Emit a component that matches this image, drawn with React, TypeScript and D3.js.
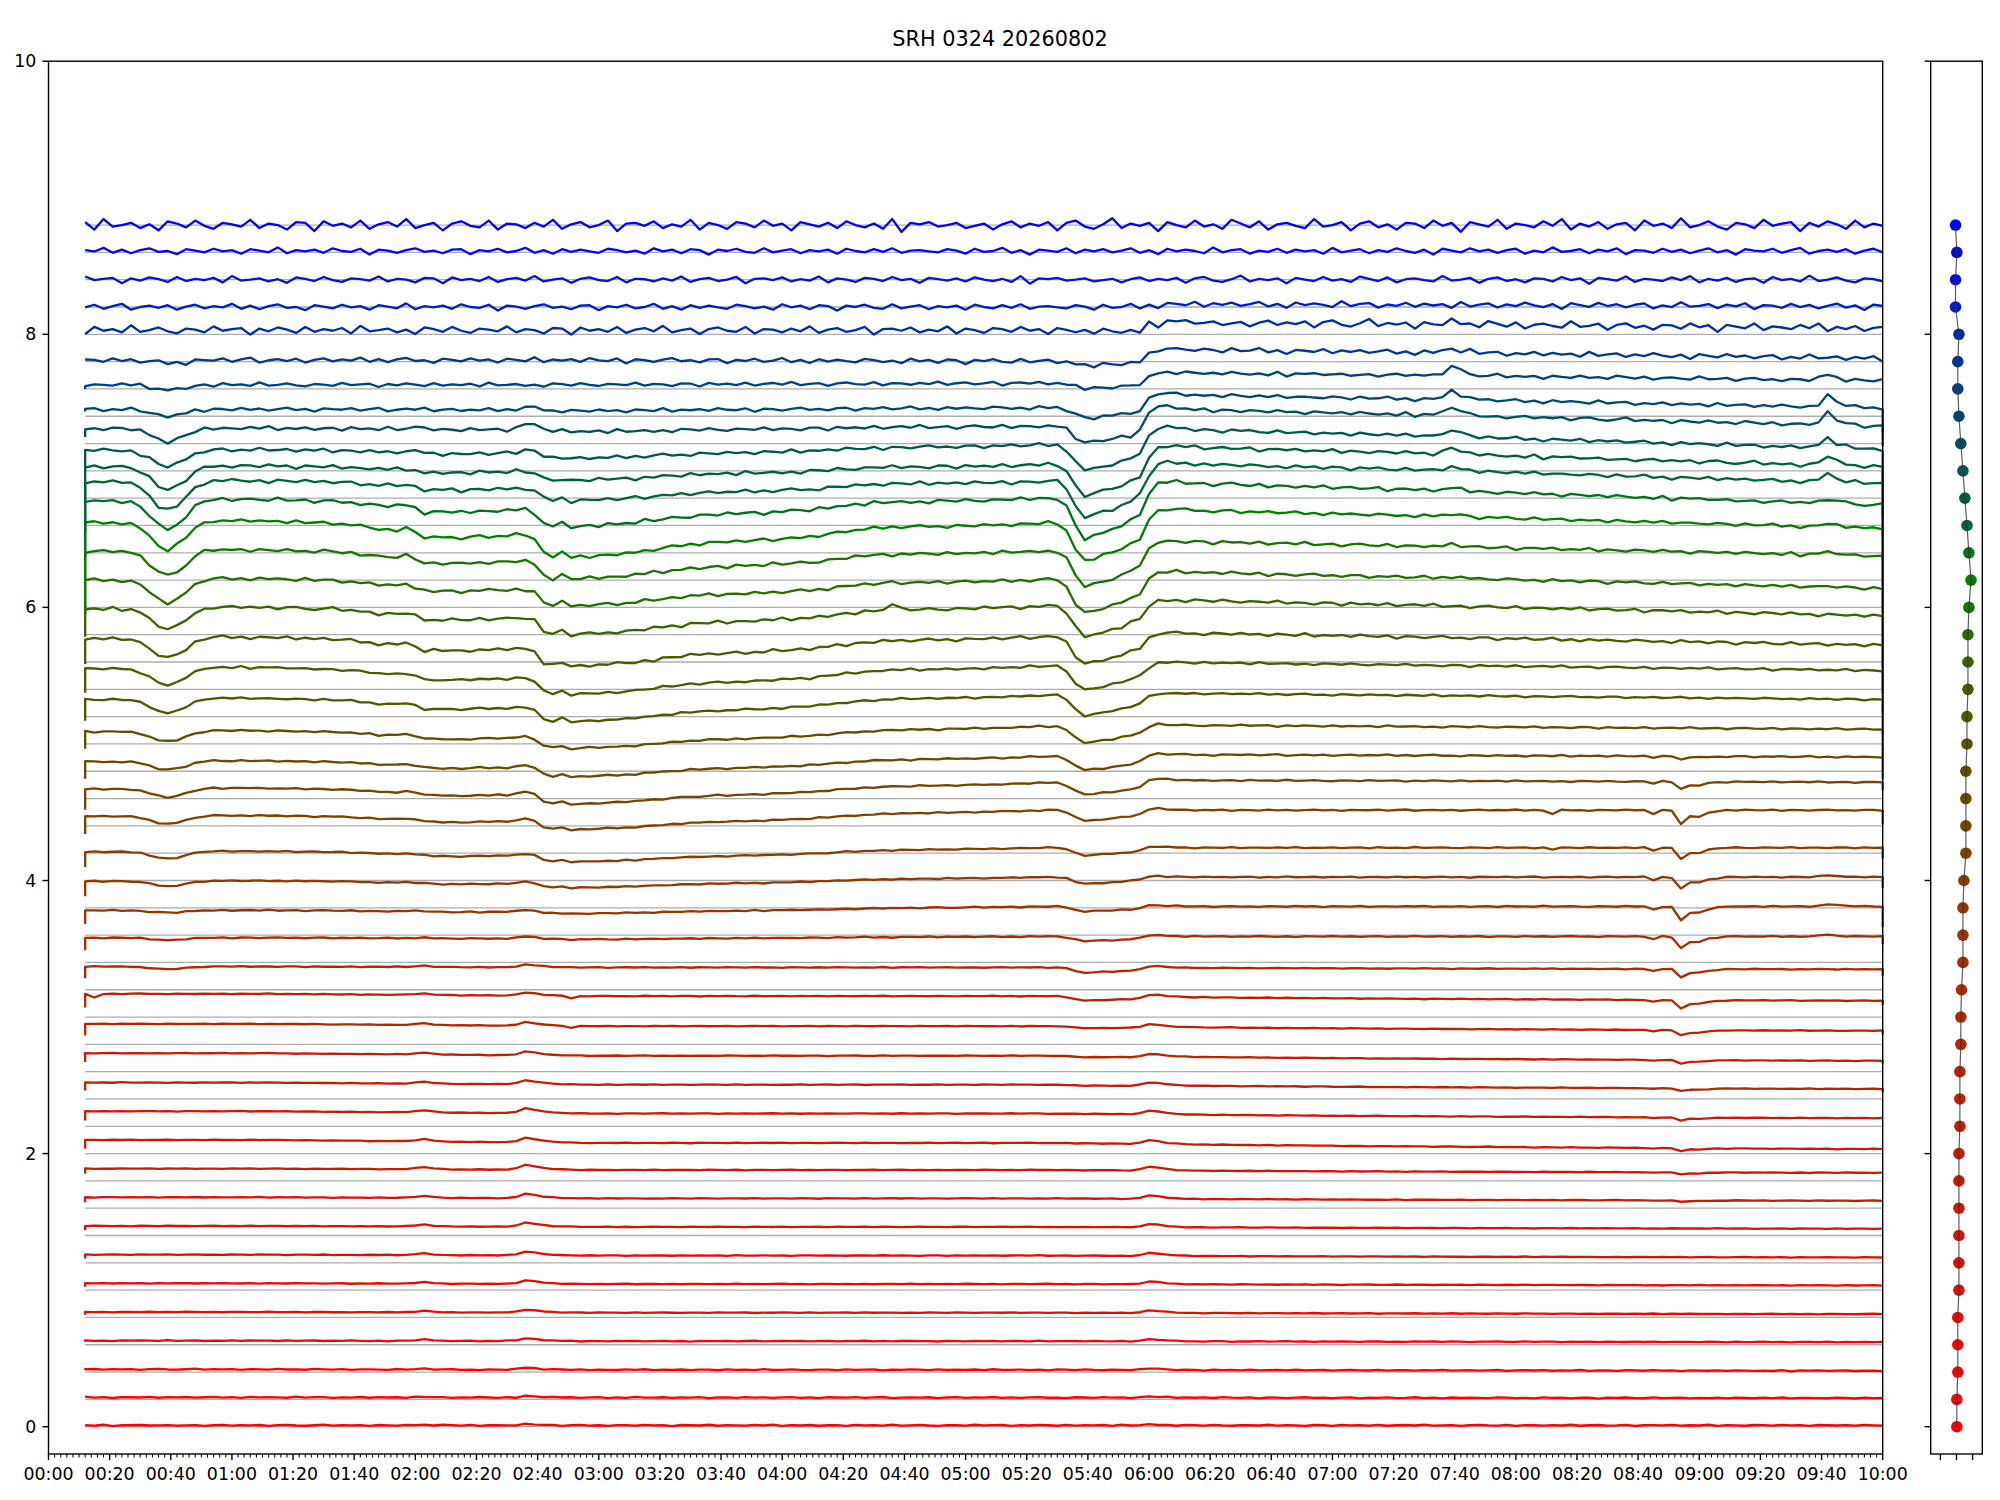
import React from "react";
import * as d3 from "d3";

// ---------------- layout (figure 2000x1500) ----------------
const FIG_W = 2000;
const FIG_H = 1500;
const MAIN = { left: 48.5, right: 1882.7, top: 61.2, bottom: 1454 };
const SIDE = { left: 1930.7, right: 1982.3 };
const FONT = "DejaVu Sans, Liberation Sans, sans-serif";

// ---------------- text / ticks ----------------
const TITLE = "SRH 0324 20260802";
const yTickValues = [0, 2, 4, 6, 8, 10];
const yTickLabels = ["0", "2", "4", "6", "8", "10"];
const xTickMinutes = [0, 20, 40, 60, 80, 100, 120, 140, 160, 180, 200, 220, 240, 260, 280, 300, 320, 340, 360, 380, 400, 420, 440, 460, 480, 500, 520, 540, 560, 580, 600];
const xTickLabels = ["00:00", "00:20", "00:40", "01:00", "01:20", "01:40", "02:00", "02:20", "02:40", "03:00", "03:20", "03:40", "04:00", "04:20", "04:40", "05:00", "05:20", "05:40", "06:00", "06:20", "06:40", "07:00", "07:20", "07:40", "08:00", "08:20", "08:40", "09:00", "09:20", "09:40", "10:00"];
const sideXTicks = [-1, 0, 1];

// sample times (minutes after 00:00), one sample every 3 minutes
const sampleMinutes: number[] = d3.range(12, 601, 3);

const zeros = (n: number) => new Array(n).fill(0);
const rep = (v: number, n: number) => new Array(n).fill(v);

// ---------------- channel table (45 channels, bottom -> top) ----------------
const baselines = [0, 0.2, 0.4, 0.6, 0.8, 1.0, 1.2, 1.4, 1.6, 1.8, 2.0, 2.2, 2.4, 2.6, 2.8, 3.0, 3.2, 3.4, 3.6, 3.8, 4.0, 4.2, 4.4, 4.6, 4.8, 5.0, 5.2, 5.4, 5.6, 5.8, 6.0, 6.2, 6.4, 6.6, 6.8, 7.0, 7.2, 7.4, 7.6, 7.8, 8.0, 8.2, 8.4, 8.6, 8.8];

// colour position on red -> green -> blue map
const colorT = [0, 0.01, 0.02, 0.035, 0.05, 0.06, 0.07, 0.08, 0.09, 0.1,
  0.11, 0.12, 0.13, 0.135, 0.14, 0.15, 0.16, 0.17, 0.19, 0.21,
  0.23, 0.25, 0.27, 0.29, 0.31, 0.33, 0.35, 0.37, 0.39, 0.42,
  0.45, 0.5, 0.56, 0.6, 0.63, 0.66, 0.69, 0.72, 0.75, 0.79,
  0.83, 0.88, 0.92, 0.96, 1.0];

// right panel marker x positions
const dotX = [0.02, 0.02, 0.08, 0.08, 0.08, 0.15, 0.15, 0.15, 0.15, 0.15,
  0.15, 0.21, 0.21, 0.21, 0.27, 0.27, 0.31, 0.4, 0.4, 0.4,
  0.46, 0.58, 0.58, 0.58, 0.58, 0.65, 0.65, 0.71, 0.71, 0.71,
  0.77, 0.9, 0.77, 0.65, 0.52, 0.4, 0.27, 0.15, 0.08, 0.08,
  0.15, -0.06, -0.06, 0.02, -0.06];

// level of each trace above its baseline
const levelOffset = [0.01, 0.015, 0.02, 0.03, 0.04, 0.05, 0.06, 0.07, 0.08, 0.09,
  0.10, 0.11, 0.12, 0.135, 0.15, 0.17, 0.17, 0.18, 0.18, 0.195,
  0.21, 0.27, 0.27, 0.27, 0.29, 0.325, 0.35, 0.37, 0.39, 0.40,
  0.41, 0.42, 0.38, 0.32, 0.23, 0.15, 0.11, 0.05, 0.03, 0.01,
  0.03, 0.0, 0.0, 0.01, 0.0];

// per-channel strength of each event
const wDip40 = [0, 0, 0, 0, 0, 0, 0, 0, 0, 0,
  0, 0, 0, 0, 0, 0, 0.02, 0.017, 0.015, 0.037,
  0.05, 0.056, 0.061, 0.06, 0.073, 0.10, 0.12, 0.14, 0.15, 0.17,
  0.18, 0.20, 0.21, 0.21, 0.17, 0.12, 0.093, 0.05, 0.037, 0.02,
  0, 0, 0, 0, 0];
const wSlow = [0, 0, 0, 0, 0, 0, 0, 0, 0, 0,
  0, 0, 0, 0, 0, 0, 0, 0.05, 0.1, 0.2,
  0.3, 0.4, 0.45, 0.45, 0.5, 0.65, 0.75, 0.8, 0.75, 0.75,
  0.8, 1.0, 0.75, 0.55, 0.4, 0.25, 0.1, 0.05, 0, 0,
  0, 0, 0, 0, 0];
const wPlateau = [0, 0, 0, 0, 0, 0, 0, 0, 0, 0,
  0, 0, 0, 0, 0, 0, 0, 0.01, 0.03, 0.03,
  0.03, 0.045, 0.045, 0.037, 0.037, 0.03, 0.017, 0.012, 0.017, 0,
  0, -0.007, 0.017, 0, 0.012, 0.04, 0.017, 0.012, 0.012, -0.007,
  0, 0, 0, 0, 0];
const wDip540 = [0, 0, 0, 0, 0, 0, 0, 0, 0, 0,
  0, 0, 0.005, 0.008, 0.012, 0.03, 0.037, 0.034, 0.037, 0.049,
  0.056, 0.078, 0.085, 0.098, 0.117, 0.146, 0.17, 0.195, 0.22, 0.24,
  0.256, 0.27, 0.29, 0.256, 0.22, 0.183, 0.12, 0.073, 0.037, 0.03,
  0.01, 0, 0, 0, 0];
const wRise = [0, 0, 0, 0, 0, 0, 0, 0, 0, 0,
  0, 0, 0, 0, 0, 0, 0, 0, 0, 0,
  0, 0, 0.02, 0.015, 0.01, 0.015, 0.03, 0.03, 0.046, 0.06,
  0.076, 0.105, 0.12, 0.14, 0.14, 0.12, 0.13, 0.1, 0.08, 0.09,
  0.06, 0.02, 0, 0, 0];
const wLate = [0, 0, 0, 0, 0, 0, 0, 0, 0, 0,
  0, 0, 0, 0, 0, 0, 0, 0, 0, 0,
  0, 0, 0, 0.006, 0.022, 0.033, 0.036, 0.066, 0.08, 0.075,
  0.05, 0.057, 0.075, 0.045, 0.045, 0.06, 0.03, 0.025, 0, 0,
  0, 0, 0, 0, 0];
const wSpike1 = [0, 0, 0, 0, 0, 0, 0, 0, 0, 0,
  0, 0, 0, 0, 0, 0, 0, 0, 0, 0,
  0, 0, 0, 0, 0, 0, 0, 0, 0, 0.01,
  0.015, 0.02, 0.025, 0.03, 0.045, 0.05, 0.06, 0.06, 0.065, 0.03,
  0.02, 0, 0, 0, 0];
const wSpike2 = [0, 0, 0, 0, 0, 0, 0, 0, 0, 0,
  0, 0, 0, 0, 0, 0, 0, 0.015, 0.02, 0.015,
  0, 0, 0, 0, 0, 0, 0, 0, 0, 0.01,
  0.02, 0.025, 0.037, 0.06, 0.07, 0.075, 0.085, 0.085, 0.04, 0,
  0, 0, 0, 0, 0];
const wBrownDip = [0, 0, 0, 0, 0, 0, 0, 0, 0.01, 0.015,
  0.02, 0.02, 0.02, 0.025, 0.04, 0.06, 0.06, 0.085, 0.1, 0.085,
  0.08, 0.1, 0.054, 0.02, 0, 0, 0, 0, 0, 0,
  0, 0, 0, 0, 0, 0, 0, 0, 0, 0,
  0, 0, 0, 0, 0];
const wRedBump = [0.008, 0.01, 0.015, 0.02, 0.022, 0.025, 0.028, 0.03, 0.032, 0.035,
  0.035, 0.035, 0.03, 0.028, 0.026, 0.024, 0.02, 0.015, 0.015, 0.015,
  0.015, 0.02, 0.02, 0.015, 0.01, 0, 0, 0, 0, 0,
  0, 0, 0, 0, 0, 0.03, 0.045, 0.02, 0, 0,
  0, 0, 0, 0, 0];
const wDrift = [0, 0.005, 0.01, 0.01, 0.015, 0.015, 0.02, 0.02, 0.025, 0.03,
  0.066, 0.05, 0.046, 0.055, 0.05, 0.05, 0.02, 0, 0, 0,
  0, 0, 0, 0, 0, 0, 0, 0, 0, 0,
  0, 0, 0, 0, 0, 0, 0, 0, 0, 0,
  0, 0, 0, 0, 0];
const noiseAmp = [0.006, 0.006, 0.005, 0.004, 0.003, 0.003, 0.003, 0.003, 0.003, 0.003,
  0.003, 0.003, 0.003, 0.003, 0.003, 0.004, 0.004, 0.006, 0.006, 0.006,
  0.006, 0.007, 0.007, 0.009, 0.009, 0.01, 0.012, 0.018, 0.018, 0.018,
  0.018, 0.018, 0.02, 0.02, 0.02, 0.02, 0.02, 0.02, 0.02, 0.028,
  0.04, 0.033, 0.033, 0.033, 0.055];
const startDrop = [0, 0, 0.005, 0.01, 0.02, 0.025, 0.03, 0.03, 0.037, 0.04,
  0.066, 0.068, 0.06, 0.066, 0.085, 0.1, 0.083, 0.09, 0.1, 0.11,
  0.11, 0.13, 0.15, 0.13, 0.13, 0.16, 0.18, 0.18, 0.2, 0.25,
  0.4, 0.42, 0.4, 0.35, 0.25, 0.15, 0.056, 0.02, 0.02, 0,
  0, 0, 0, 0, 0];
const endDrop = [0, 0, 0, 0, 0, 0, 0, 0, 0, 0,
  0, 0, 0.02, 0.02, 0.03, 0.03, 0.05, 0.06, 0.15, 0.08,
  0.08, 0.1, 0.06, 0.16, 0.2, 0.25, 0.3, 0.35, 0.38, 0.4,
  0.42, 0.42, 0.42, 0.4, 0.35, 0.25, 0.05, 0.27, 0, 0,
  0, 0, 0, 0, 0];

// single-sample glitches: [channel, minute, jump]
const glitches: [number, number, number][] = [
  [28, 276, 0.05], [21, 492, -0.03], [20, 492, -0.012], [15, 15, -0.03], [15, 171, -0.02], [14, 171, -0.015],
];

// ---------------- event shapes on the 3-minute grid ----------------
const compDip40 = [
  0, 0, 0, 0, 0, -0.05, -0.2, -0.5, -0.85, -1, -0.85, -0.55, -0.25, -0.08, 0, 0, 0, 0, 0, 0,
  ...zeros(177),
];
const compSlow = [
  0, 0, 0, 0, 0, 0, 0, 0, 0, 0, 0.003, 0.006, 0.01, 0.012, 0.015, 0.015, 0.015, 0.015, 0.015, 0.012,
  0.012, 0.01, 0.008, 0.005, 0.003, 0, 0, -0.005, -0.01, -0.015, -0.025, -0.035, -0.045, -0.05, -0.05, -0.04, -0.07, -0.11, -0.11, -0.105,
  -0.11, -0.115, -0.105, -0.1, -0.1, -0.098, -0.095, -0.09, -0.09, -0.12, -0.22, -0.245, -0.215, -0.255, -0.25, -0.245, -0.24, -0.235, -0.23, -0.225,
  -0.215, -0.205, -0.195, -0.185, -0.175, -0.165, -0.155, -0.15, -0.145, -0.14, -0.14, -0.135, -0.13, -0.128, -0.125, -0.12, -0.115, -0.11, -0.105, -0.1,
  -0.09, -0.08, -0.07, -0.06, -0.052, -0.044, -0.037, -0.031, -0.028, -0.026, -0.025, -0.024, -0.022, -0.02, -0.02, -0.018, -0.018, -0.016, -0.014, -0.012,
  -0.01, -0.007, -0.005, -0.002, 0.002, 0.004, 0.003, 0, 0, 0, 0, 0, 0, 0, 0, 0, 0, 0, 0, 0,
  ...zeros(77),
];
const compPlateau = [
  ...zeros(40),
  0, 0, 0, 0, 0, 0, 0, 0, 0, 0, 0.01, 0.03, 0.05, 0.06, 0.08, 0.1, 0.11, 0.13, 0.15, 0.17,
  0.18, 0.2, 0.22, 0.24, 0.25, 0.27, 0.29, 0.31, 0.32, 0.34, 0.36, 0.38, 0.39, 0.41, 0.43, 0.45, 0.46, 0.48, 0.5, 0.52,
  0.54, 0.55, 0.57, 0.59, 0.61, 0.62, 0.64, 0.66, 0.68, 0.69, 0.71, 0.73, 0.75, 0.76, 0.78, 0.8, 0.82, 0.83, 0.85, 0.87,
  0.89, 0.9, 0.92, 0.94, 0.96, 0.97, 0.99, 1, 1, 1, 1, 1, 1, 1, 1, 1, 1, 1, 1, 1,
  ...rep(1, 77),
];
const compDip540 = [
  ...zeros(100),
  0, 0, 0, 0, 0, 0, 0, -0.2, -0.7, -1, -0.95, -0.86, -0.78, -0.68, -0.56, -0.42, -0.12, 0, 0, 0,
  ...zeros(77),
];
const compRise = [
  ...zeros(100),
  0, 0, 0, 0, 0, 0, 0, 0, 0, 0, 0, 0, 0, 0, 0, 0.1, 0.55, 0.92, 1, 1,
  0.97, 0.93, 0.9, 0.88, 0.9, 0.91, 0.88, 0.86, 0.85, 0.84, 0.84, 0.83, 0.82, 0.82, 0.81, 0.8, 0.8, 0.79, 0.78, 0.78,
  0.77, 0.76, 0.75, 0.74, 0.74, 0.73, 0.72, 0.71, 0.7, 0.69, 0.68, 0.67, 0.66, 0.65, 0.64, 0.63, 0.62, 0.61, 0.6, 0.59,
  0.58, 0.57, 0.56, 0.55, 0.54, 0.53, 0.52, 0.51, 0.5, 0.49, 0.48, 0.47, 0.46, 0.45, 0.44, 0.43, 0.42, 0.41, 0.4, 0.39,
  0.38, 0.37, 0.36, 0.35, 0.34, 0.33, 0.32, 0.31, 0.3, 0.29, 0.28, 0.27, 0.26, 0.25, 0.24, 0.22, 0.2,
];
const compLate = [
  ...zeros(120),
  0, 0, 0, -0.01, -0.03, -0.04, -0.05, -0.07, -0.08, -0.09, -0.11, -0.12, -0.14, -0.15, -0.16, -0.18, -0.19, -0.2, -0.22, -0.23,
  -0.24, -0.26, -0.27, -0.28, -0.3, -0.31, -0.32, -0.34, -0.35, -0.36, -0.38, -0.39, -0.41, -0.42, -0.43, -0.45, -0.46, -0.47, -0.49, -0.5,
  -0.51, -0.53, -0.54, -0.55, -0.57, -0.58, -0.59, -0.61, -0.62, -0.63, -0.65, -0.66, -0.68, -0.69, -0.7, -0.72, -0.73, -0.74, -0.76, -0.77,
  -0.78, -0.8, -0.81, -0.82, -0.84, -0.85, -0.86, -0.88, -0.89, -0.91, -0.92, -0.93, -0.95, -0.96, -0.97, -0.99, -1,
];
const compSpike1 = [
  ...zeros(140),
  0, 0, 0, 0, 0, 0, 0, 0, 0.35, 1, 0.55, 0.25, 0.1, 0, 0, 0, 0, 0, 0, 0,
  ...zeros(37),
];
const compSpike2 = [
  ...zeros(180),
  0, 0, 0, 0, 0, 0, 0, 0, 0, 0.3, 1, 0.45, 0.2, 0.08, 0, 0, 0,
];
const compBrownDip = [
  ...zeros(160),
  0, 0, 0, 0, 0, 0, 0, 0, 0, 0, 0, -0.25, 0, -0.05, -1, -0.5, -0.45, -0.2, -0.08, 0,
  ...zeros(17),
];
const compRedBump = [
  ...zeros(20),
  0, 0, 0, 0, 0, 0, 0, 0, 0, 0, 0, 0, 0, 0, 0, 0.05, 0.25, 0.5, 0.2, 0.05,
  0, 0, 0, 0, 0, 0, 0.05, 0.3, 1, 0.75, 0.4, 0.2, 0.1, 0.05, 0, 0, 0, 0, 0, 0,
  ...zeros(40),
  0, 0, 0, 0, 0, 0, 0, 0, 0, 0, 0, 0, 0, 0, 0, 0.2, 0.8, 0.6, 0.3, 0.15,
  0.05, 0, 0, 0, 0, 0, 0, 0, 0, 0, 0, 0, 0, 0, 0, 0, 0, 0, 0, 0,
  ...zeros(57),
];
const compDrift = [
  ...zeros(20),
  0, -0.01, -0.02, -0.03, -0.04, -0.05, -0.06, -0.07, -0.08, -0.09, -0.1, -0.11, -0.12, -0.13, -0.14, -0.15, -0.16, -0.17, -0.18, -0.19,
  -0.2, -0.21, -0.22, -0.23, -0.24, -0.25, -0.26, -0.27, -0.28, -0.29, -0.3, -0.31, -0.31, -0.32, -0.32, -0.33, -0.33, -0.33, -0.33, -0.33,
  ...rep(-0.33, 40),
  -0.33, -0.33, -0.33, -0.33, -0.33, -0.34, -0.35, -0.36, -0.37, -0.38, -0.39, -0.4, -0.41, -0.42, -0.43, -0.44, -0.45, -0.46, -0.47, -0.48,
  -0.49, -0.5, -0.51, -0.52, -0.53, -0.54, -0.55, -0.56, -0.57, -0.58, -0.59, -0.6, -0.61, -0.62, -0.63, -0.64, -0.65, -0.66, -0.67, -0.68,
  -0.69, -0.69, -0.7, -0.71, -0.71, -0.72, -0.73, -0.73, -0.74, -0.75, -0.75, -0.76, -0.77, -0.77, -0.78, -0.79, -0.79, -0.8, -0.81, -0.81,
  -0.82, -0.83, -0.83, -0.84, -0.85, -0.85, -0.86, -0.87, -0.87, -0.88, -0.89, -0.89, -0.9, -0.91, -0.91, -0.92, -0.93, -0.93, -0.94, -0.95,
  -0.95, -0.96, -0.96, -0.97, -0.97, -0.98, -0.98, -0.98, -0.99, -0.99, -0.99, -1, -1, -1, -1, -1, -1,
];

// ripple
const rippleA = [
  0.2, -0.5, 0.8, -0.9, 0.3, 0.1, 0.4, -0.2, 0.0, 0.3, -0.4, -0.1, 0.2, -0.6, 0.1, 0.5, -0.3, 0.2, -0.1, 0.4,
  -0.7, 0.3, 0.6, -0.2, -0.5, 0.1, 0.9, -0.4, 0.2, -0.1, 0.3, -0.8, 0.4, 0.0, -0.3, 0.6, -0.2, 0.1, -0.5, 0.7,
  0.2, -0.3, 0.5, -0.6, 0.1, 0.3, -0.1, -0.4, 0.8, -0.2, 0.0, 0.4, -0.7, 0.2, 0.5, -0.3, 0.1, -0.6, 0.3, 0.2,
  -0.4, 0.6, -0.1, 0.3, -0.9, 0.4, 0.1, -0.2, 0.7, -0.5, 0.2, 0.0, -0.3, 0.5, -0.1, 0.8, -0.6, 0.2, -0.2, 0.4,
  -0.5, 0.1, 0.3, -0.7, 0.6, -0.1, 0.2, -0.4, 0.9, -0.3, 0.0, 0.5, -0.2, -0.6, 0.3, 0.1, -0.4, 0.7, -0.1, 0.2,
  0.4, -0.8, 0.3, -0.2, 0.5, 0.1, -0.5, 0.6, -0.3, 0.2, -0.1, 0.4, -0.6, 0.8, -0.2, 0.0, 0.3, -0.4, 0.1, -0.7,
  0.5, 0.2, -0.3, 0.6, -0.1, -0.5, 0.3, 0.1, -0.2, 0.7, -0.4, 0.2, 0.0, -0.6, 0.4, 0.3, -0.8, 0.5, -0.1, 0.2,
  -0.3, 0.6, -0.5, 0.1, 0.4, -0.2, 0.8, -0.4, 0.0, 0.3, -0.7, 0.2, 0.5, -0.1, -0.3, 0.6, -0.6, 0.2, 0.1, -0.4,
  0.3, -0.2, 0.7, -0.5, 0.1, 0.4, -0.3, 0.0, 0.6, -0.8, 0.2, 0.3, -0.1, 0.5, -0.4, 0.1, -0.2, 0.7, -0.6, 0.3,
  0.0, -0.5, 0.4, 0.2, -0.3, 0.6, -0.1, 0.2, -0.7, 0.4, 0.1, -0.2, 0.3, -0.4, 0.5, 0.0, -0.3,
];
const rippleB = [
  -0.3, 0.4, 0.1, -0.6, 0.5, -0.2, 0.0, 0.7, -0.4, 0.2, -0.8, 0.3, 0.1, -0.2, 0.6, -0.5, 0.3, -0.1, 0.4, -0.3,
  0.1, 0.6, -0.4, 0.2, -0.7, 0.5, -0.1, 0.3, 0.0, -0.5, 0.8, -0.3, 0.2, 0.4, -0.6, 0.1, -0.2, 0.5, -0.4, 0.3,
  -0.1, 0.2, -0.6, 0.7, -0.3, 0.1, 0.4, -0.5, 0.2, -0.2, 0.6, 0.0, -0.4, 0.3, -0.8, 0.5, 0.1, -0.3, 0.6, -0.1,
  0.3, -0.4, 0.2, 0.5, -0.6, 0.1, -0.3, 0.8, -0.2, 0.0, 0.4, -0.5, 0.3, -0.1, 0.6, -0.7, 0.2, 0.1, -0.4, 0.5,
  -0.2, 0.3, -0.5, 0.1, 0.6, -0.3, 0.2, -0.8, 0.4, 0.1, -0.1, 0.5, -0.4, 0.2, 0.7, -0.6, 0.0, 0.3, -0.2, 0.4,
  -0.6, 0.1, 0.5, -0.3, 0.2, -0.1, 0.7, -0.4, 0.3, -0.5, 0.2, 0.6, -0.2, 0.0, -0.7, 0.4, 0.1, -0.3, 0.5, -0.1,
  0.2, -0.6, 0.4, 0.1, -0.3, 0.8, -0.5, 0.2, -0.1, 0.3, -0.4, 0.6, 0.0, -0.2, 0.5, -0.8, 0.3, 0.1, -0.4, 0.2,
  0.6, -0.2, 0.1, -0.5, 0.3, 0.4, -0.7, 0.2, -0.1, 0.5, -0.3, 0.0, 0.7, -0.4, 0.2, -0.6, 0.4, -0.2, 0.3, -0.1,
  -0.4, 0.5, 0.2, -0.3, 0.1, -0.6, 0.6, -0.1, 0.3, -0.5, 0.4, 0.2, -0.8, 0.3, 0.0, 0.5, -0.2, -0.4, 0.6, -0.3,
  0.1, 0.4, -0.5, 0.2, -0.1, 0.3, -0.6, 0.5, 0.0, -0.3, 0.4, -0.2, 0.6, -0.4, 0.1, 0.2, -0.1,
];

// ---------------- scales ----------------
const x = d3.scaleLinear().domain([0, 600]).range([MAIN.left, MAIN.right]);
const y = d3.scaleLinear().domain([-0.2, 10]).range([MAIN.bottom, MAIN.top]);
const xs = d3.scaleLinear().domain([-1.6, 1.6]).range([SIDE.left, SIDE.right]);
const cmap = d3.piecewise(d3.interpolateRgb, ["#ff0000", "#008000", "#0000ff"]);

const at = (arr: number[], k: number) => (arr[k] ?? 0);

function buildTrace(i: number): [number, number][] {
  const ripple = i % 2 === 0 ? rippleA : rippleB;
  const pts: [number, number][] = sampleMinutes.map((t, k) => {
    const v =
      baselines[i] + levelOffset[i] +
      wDip40[i] * at(compDip40, k) +
      wSlow[i] * at(compSlow, k) +
      wPlateau[i] * at(compPlateau, k) +
      wDip540[i] * at(compDip540, k) +
      wRise[i] * at(compRise, k) +
      wLate[i] * at(compLate, k) +
      wSpike1[i] * at(compSpike1, k) +
      wSpike2[i] * at(compSpike2, k) +
      wBrownDip[i] * at(compBrownDip, k) +
      wRedBump[i] * at(compRedBump, k) +
      wDrift[i] * at(compDrift, k) +
      noiseAmp[i] * ripple[(k + 7 * i) % ripple.length];
    return [t, v];
  });
  glitches.forEach(([ch, m, dv]) => {
    if (ch === i) {
      const k = sampleMinutes.indexOf(m);
      if (k >= 0) pts[k][1] += dv;
    }
  });
  const first: [number, number] = [pts[0][0], pts[0][1] - startDrop[i]];
  const lastP = pts[pts.length - 1];
  const last: [number, number] = [lastP[0], lastP[1] - endDrop[i]];
  return [first, ...pts, last];
}

const line = d3.line<[number, number]>().x((d) => x(d[0])).y((d) => y(d[1]));

export default function App() {
  const traces = baselines.map((_, i) => buildTrace(i));
  const t0 = sampleMinutes[0];
  const t1 = sampleMinutes[sampleMinutes.length - 1];
  const minorMinutes = d3.range(0, 601, 2).filter((m) => m % 20 !== 0);
  const sidePath = d3.line<number>().x((_, i) => xs(dotX[i])).y((b) => y(b))(baselines) || "";

  const majorLen = 6.1;
  const minorLen = 3.5;
  const axisW = 1.39;

  return (
    <svg width={FIG_W} height={FIG_H} style={{ position: "absolute", left: 0, top: 0, background: "#fff" }}
      fontFamily={FONT}>
      <rect x={0} y={0} width={FIG_W} height={FIG_H} fill="#ffffff" />
      <text x={FIG_W / 2} y={46} textAnchor="middle" fontSize={20.8} fill="#000">{TITLE}</text>

      {/* baselines */}
      <g>
        {baselines.map((b, i) => (
          <line key={"bl" + i} x1={x(t0)} x2={x(t1)} y1={y(b)} y2={y(b)} stroke="#adadad" strokeWidth={1.3} />
        ))}
      </g>
      {/* traces */}
      <g fill="none" strokeLinejoin="round" strokeLinecap="butt">
        {traces.map((tr, i) => (
          <path key={"tr" + i} d={line(tr) || ""} stroke={cmap(colorT[i])} strokeWidth={2.3} />
        ))}
      </g>

      {/* main axes frame */}
      <rect x={MAIN.left} y={MAIN.top} width={MAIN.right - MAIN.left} height={MAIN.bottom - MAIN.top}
        fill="none" stroke="#000" strokeWidth={axisW} />
      {/* y ticks */}
      {yTickValues.map((v, i) => (
        <g key={"yt" + i}>
          <line x1={MAIN.left - majorLen} x2={MAIN.left} y1={y(v)} y2={y(v)} stroke="#000" strokeWidth={axisW} />
          <text x={MAIN.left - majorLen - 6.1} y={y(v)} dy="0.35em" textAnchor="end" fontSize={17.4}>{yTickLabels[i]}</text>
        </g>
      ))}
      {/* x ticks */}
      {minorMinutes.map((m) => (
        <line key={"xm" + m} x1={x(m)} x2={x(m)} y1={MAIN.bottom} y2={MAIN.bottom + minorLen} stroke="#000" strokeWidth={1.04} />
      ))}
      {xTickMinutes.map((m, i) => (
        <g key={"xt" + m}>
          <line x1={x(m)} x2={x(m)} y1={MAIN.bottom} y2={MAIN.bottom + majorLen} stroke="#000" strokeWidth={axisW} />
          <text x={x(m)} y={MAIN.bottom + majorLen + 6.1 + 13.4} textAnchor="middle" fontSize={17.4}>{xTickLabels[i]}</text>
        </g>
      ))}

      {/* side panel */}
      <g>
        {baselines.map((b, i) => (
          <circle key={"dot" + i} cx={xs(dotX[i])} cy={y(b)} r={5.8} fill={cmap(colorT[i])} />
        ))}
        <path d={sidePath} fill="none" stroke="#333" strokeOpacity={0.8} strokeWidth={1.2} />
        <rect x={SIDE.left} y={MAIN.top} width={SIDE.right - SIDE.left} height={MAIN.bottom - MAIN.top}
          fill="none" stroke="#000" strokeWidth={axisW} />
        {yTickValues.map((v) => (
          <line key={"syt" + v} x1={SIDE.left - majorLen} x2={SIDE.left} y1={y(v)} y2={y(v)} stroke="#000" strokeWidth={axisW} />
        ))}
        {sideXTicks.map((v) => (
          <line key={"sxt" + v} x1={xs(v)} x2={xs(v)} y1={MAIN.bottom} y2={MAIN.bottom + majorLen} stroke="#000" strokeWidth={axisW} />
        ))}
      </g>
    </svg>
  );
}
